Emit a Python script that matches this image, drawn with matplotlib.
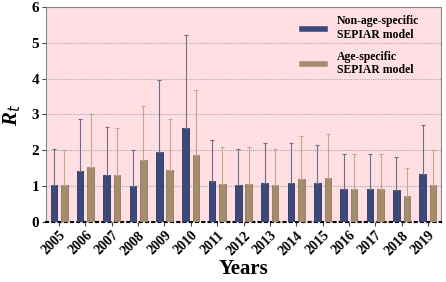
import matplotlib
matplotlib.use("Agg")
import matplotlib.pyplot as plt
import numpy as np
from matplotlib.lines import Line2D

years = ["2005", "2006", "2007", "2008", "2009", "2010", "2011", "2012",
         "2013", "2014", "2015", "2016", "2017", "2018", "2019"]
non_age = [1.02, 1.43, 1.31, 0.99, 1.96, 2.62, 1.13, 1.02, 1.10, 1.08, 1.08, 0.93, 0.93, 0.90, 1.33]
non_age_upper = [2.05, 2.88, 2.65, 2.00, 3.95, 5.23, 2.30, 2.05, 2.20, 2.20, 2.15, 1.90, 1.90, 1.82, 2.70]
age = [1.02, 1.53, 1.31, 1.73, 1.45, 1.88, 1.05, 1.05, 1.02, 1.20, 1.23, 0.93, 0.93, 0.73, 1.02]
age_upper = [2.00, 3.02, 2.63, 3.25, 2.88, 3.68, 2.10, 2.08, 2.05, 2.40, 2.45, 1.90, 1.90, 1.50, 2.00]

serif = ["Liberation Serif", "DejaVu Serif"]
blue = "#3c4a7a"
tan = "#a48d6c"

fig = plt.figure(figsize=(4.46, 2.82), dpi=100)
ax = fig.add_axes([0.103, 0.213, 0.886, 0.762])
ax.set_facecolor("#ffdfe3")

x = np.arange(len(years))
w = 0.25
off = 0.2
na = np.array(non_age); nau = np.array(non_age_upper)
ag = np.array(age); agu = np.array(age_upper)
ax.bar(x - off, na, w, color=blue, edgecolor="#2a3560", linewidth=0.6, zorder=3)
ax.bar(x + off, ag, w, color=tan, edgecolor="#8f7a5c", linewidth=0.6, zorder=3)
ax.errorbar(x - off, na, yerr=[np.zeros_like(na), nau - na], fmt="none",
            ecolor="#6a6f8a", elinewidth=0.8, capsize=1.5, capthick=0.8, zorder=4)
ax.errorbar(x + off, ag, yerr=[np.zeros_like(ag), agu - ag], fmt="none",
            ecolor="#c0a88a", elinewidth=0.8, capsize=1.5, capthick=0.8, zorder=4)

ax.set_xlim(-0.5, len(years) - 0.5)
ax.set_ylim(0, 6)
ax.set_yticks(range(0, 7))
ax.yaxis.grid(True, linestyle=(0, (1, 1)), color="#aaaaaa", linewidth=0.8, zorder=1)
ax.set_axisbelow(True)
ax.set_xticks(x)
ax.set_xticklabels(years, rotation=45, ha="right", rotation_mode="anchor",
                   fontfamily=serif, fontweight="bold", fontsize=10)
for lab in ax.get_yticklabels():
    lab.set_fontfamily(serif)
    lab.set_fontweight("bold")
    lab.set_fontsize(11)
ax.tick_params(axis="both", length=3, width=0.8, color="#444444", pad=2)

for s in ["top", "right", "left"]:
    ax.spines[s].set_color("#888888")
    ax.spines[s].set_linewidth(0.8)
ax.spines["bottom"].set_linestyle((0, (1, 2)))
ax.spines["bottom"].set_color("black")
ax.spines["bottom"].set_linewidth(1.5)

ax.set_ylabel("R$_t$", fontfamily=serif, fontweight="bold", style="italic",
              fontsize=15, labelpad=6)
ax.set_xlabel("Years", fontfamily=serif, fontweight="bold", fontsize=15, labelpad=1)

handles = [Line2D([0], [0], color=blue, lw=4), Line2D([0], [0], color=tan, lw=4)]
ax.legend(handles, ["Non-age-specific\nSEPIAR model", "Age-specific\nSEPIAR model"],
          loc="upper right", frameon=False, handlelength=1.95, handletextpad=1.0,
          prop={"family": serif, "weight": "bold", "size": 8.5},
          labelspacing=0.8, bbox_to_anchor=(0.965, 1.0), borderaxespad=0.3)

fig.savefig("out.png", dpi=100)
